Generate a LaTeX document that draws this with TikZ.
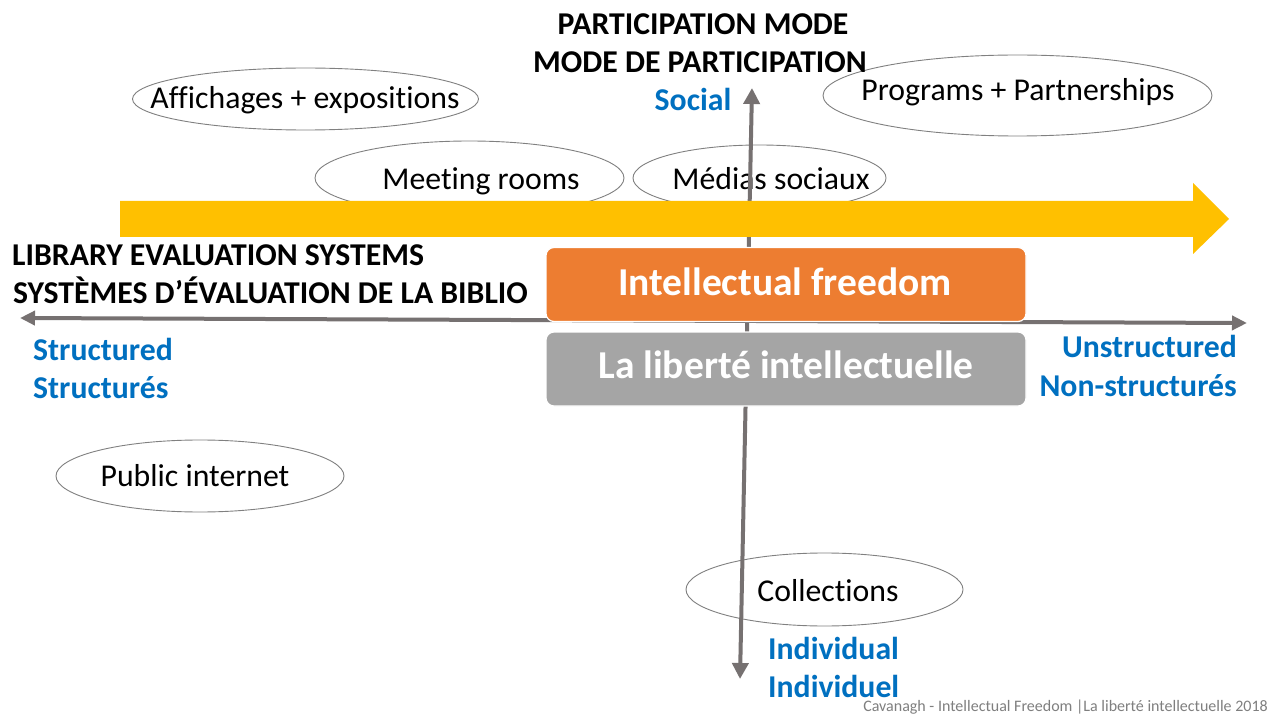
\documentclass[tikz,border=0pt]{standalone}
\usepackage{fontspec}
\setmainfont{Carlito}[Ligatures=NoCommon]
\usetikzlibrary{arrows.meta,shapes.geometric}
\definecolor{axisgray}{HTML}{767171}
\definecolor{ellgray}{HTML}{808080}
\definecolor{yel}{HTML}{FFC000}
\definecolor{org}{HTML}{ED7D31}
\definecolor{boxgray}{HTML}{A5A5A5}
\definecolor{blu}{HTML}{0070C0}
\definecolor{foot}{HTML}{7F7F7F}
\tikzset{
  ell/.style={ellipse, draw=ellgray, line width=0.9pt, inner sep=0pt},
  etxt/.style={anchor=base, inner sep=0pt, font=\fontsize{31.75}{38}\selectfont},
  head/.style={inner sep=0pt, font=\fontsize{31.75}{38}\selectfont\bfseries},
  bluetxt/.style={inner sep=0pt, text=blu, font=\fontsize{31.75}{38}\selectfont\bfseries},
  vaxis/.style={draw=axisgray, line width=4pt, {Triangle[length=16pt,width=16pt]}-{Triangle[length=16pt,width=16pt]}},
  haxis/.style={draw=axisgray, line width=4pt, {Triangle[length=15pt,width=14pt]}-{Triangle[length=15pt,width=14pt]}},
  cbox/.style={rounded corners=8pt, draw=white, line width=1.2pt, minimum width=480pt, minimum height=74pt, inner sep=0pt},
  ctxt/.style={anchor=base, inner sep=0pt, text=white, font=\fontsize{39.5}{46}\selectfont\bfseries}
}
\begin{document}
\begin{tikzpicture}[x=1pt,y=-1pt]
\useasboundingbox[fill=white] (0,0) rectangle (1270,714);

% ellipses
\node[ell, minimum width=346pt, minimum height=62pt] (affE) at (305.5,99) {};
\node[ell, minimum width=389pt, minimum height=81pt] (progE) at (1017.5,95.5) {};
\node[ell, minimum width=309pt, minimum height=74pt] (meetE) at (469.5,178) {};
\node[ell, minimum width=253pt, minimum height=66pt] (medE) at (759.5,178) {};
\node[ell, minimum width=288pt, minimum height=72pt] (pubE) at (200,476) {};
\node[ell, minimum width=277pt, minimum height=73pt] (colE) at (824.5,589.5) {};

\node[etxt] (affT) at (305,109) {Affichages + expositions};
\node[etxt] (progT) at (1018,101) {Programs + Partnerships};
\node[etxt] (meetT) at (481,190) {Meeting rooms};
\node[etxt] (medT) at (771,190) {Médias sociaux};
\node[etxt] (pubT) at (195,486) {Public internet};
\node[etxt] (colT) at (828,601) {Collections};

% axes
\coordinate (vT) at (752,88);
\coordinate (vB) at (740,679);
\coordinate (hL) at (20,318);
\coordinate (hR) at (1247,323);
\draw[vaxis] (vT) -- (vB);
\draw[haxis] (hL) -- (hR);

% yellow arrow
\fill[yel] (120,201) -- (1193,201) -- (1193,183) -- (1229,219) -- (1193,254) -- (1193,237) -- (120,237) -- cycle;

% central boxes
\node[cbox, fill=org] (ifree) at (786,284.5) {};
\node[cbox, fill=boxgray] (lib) at (786,369) {};
\node[ctxt] (ifreeT) at (785,295) {Intellectual freedom};
\node[ctxt] (libT) at (786,378) {La liberté intellectuelle};

% headings
\node[head, anchor=base] (pm1) at (703,35) {PARTICIPATION MODE};
\node[head, anchor=base] (pm2) at (700,73) {MODE DE PARTICIPATION};
\node[head, anchor=base west] (les1) at (12,266) {LIBRARY EVALUATION SYSTEMS};
\node[head, anchor=base west] (les2) at (13,304) {SYSTÈMES D’ÉVALUATION DE LA BIBLIO};

% blue labels
\node[bluetxt, anchor=base] (soc) at (693,111) {Social};
\node[bluetxt, anchor=base west] (st1) at (33,360) {Structured};
\node[bluetxt, anchor=base west] (st2) at (33,398) {Structurés};
\node[bluetxt, anchor=base east] (un1) at (1237,357) {Unstructured};
\node[bluetxt, anchor=base east] (un2) at (1237,396) {Non-structurés};
\node[bluetxt, anchor=base west] (in1) at (768,659) {Individual};
\node[bluetxt, anchor=base west] (in2) at (768,697) {Individuel};

% footer
\node[anchor=base east, inner sep=0pt, text=foot, font=\fontsize{16}{19}\selectfont] (ft) at (1268,711) {Cavanagh - Intellectual Freedom |La liberté intellectuelle 2018};
\end{tikzpicture}
\end{document}
